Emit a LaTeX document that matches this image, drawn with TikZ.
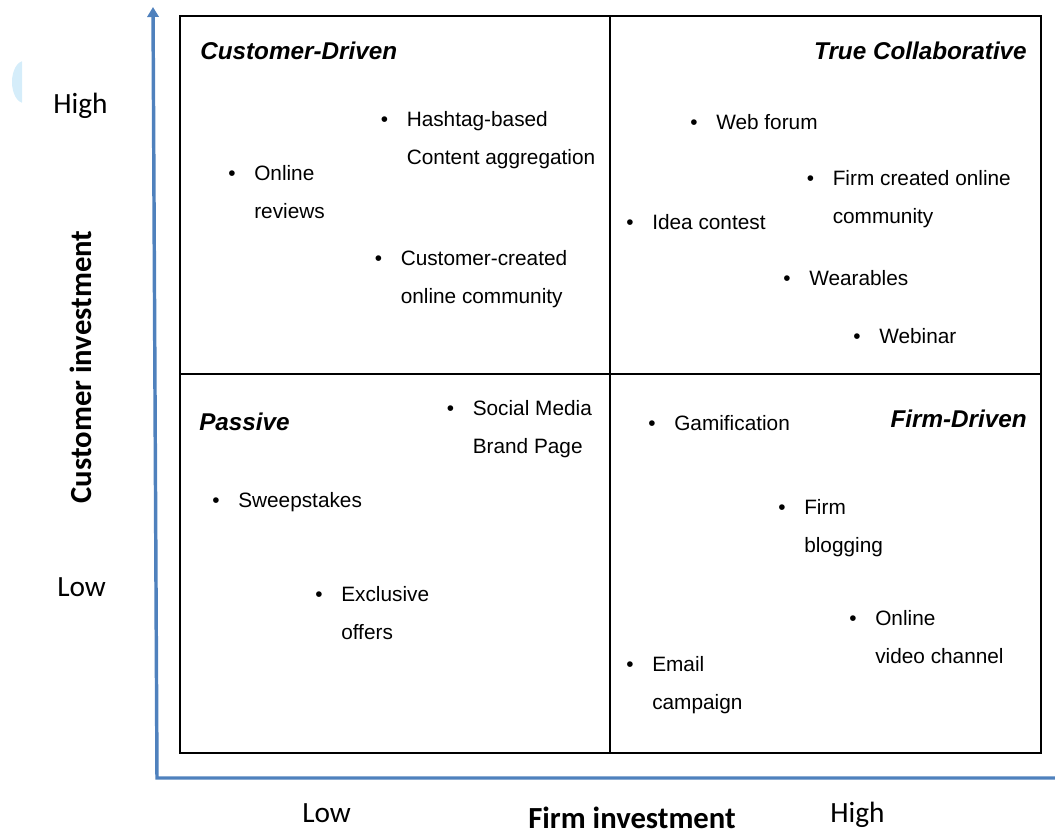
\documentclass[tikz,border=0pt]{standalone}
\usepackage{fontspec}
\setmainfont{Liberation Sans}
\newfontfamily\carlito{Carlito}
\usetikzlibrary{arrows.meta}
\definecolor{axisblue}{HTML}{4F81BD}
\definecolor{blob}{HTML}{D5EDFA}
\newcommand\bitem[1]{\llap{\textbullet\hspace{14pt}}\begin{tabular}[t]{@{}l@{}}#1\end{tabular}}
\begin{document}
\begin{tikzpicture}[x=0.75pt,y=-0.75pt,
 itm/.style={anchor=base west,inner sep=0pt,font=\fontsize{15.6}{28.5}\selectfont},
 hdr/.style={inner sep=0pt,font=\fontsize{18.2}{22}\selectfont\bfseries\itshape},
 lvl/.style={anchor=base west,inner sep=0pt,font=\carlito\fontsize{22}{26}\selectfont},
 axlab/.style={anchor=base,inner sep=0pt,font=\carlito\bfseries\fontsize{23}{27}\selectfont},
 axisline/.style={draw=axisblue,line width=2.6pt,line join=miter},
 gridline/.style={draw=black,line width=1.2pt}]
\useasboundingbox (0,0) rectangle (1055,835);

% light blue fragment
\begin{scope}
\clip (0,0) rectangle (22,835);
\fill[blob] (24,82) ellipse [x radius=12, y radius=21];
\end{scope}

% quadrant grid
\coordinate (tl) at (180,16);
\coordinate (br) at (1041,753);
\coordinate (mt) at (610,16);
\coordinate (mb) at (610,753);
\coordinate (ml) at (180,374);
\coordinate (mr) at (1041,374);
\draw[gridline] (tl) rectangle (br);
\draw[gridline] (mt) -- (mb);
\draw[gridline] (ml) -- (mr);

% axes
\coordinate (origin) at (157,778);
\coordinate (ytop) at (153,7);
\coordinate (xend) at (1056,778);
\draw[axisline,-{Triangle[width=8.5pt,length=7.5pt]}] (xend) -- (origin) -- (ytop);

% axis labels
\node[lvl] (yhigh) at (53,113) {High};
\node[lvl] (ylow) at (57,596) {Low};
\node[lvl] (xlow) at (302,822) {Low};
\node[lvl] (xhigh) at (830,822) {High};
\node[axlab] (xlab) at (632,828) {Firm investment};
\node[axlab,rotate=90] (ylab) at (91,367) {Customer investment};

% headers
\node[hdr,anchor=base west] (hcd) at (200,59) {Customer-Driven};
\node[hdr,anchor=base east] (htc) at (1027,59) {True Collaborative};
\node[hdr,anchor=base west] (hpa) at (199,430) {Passive};
\node[hdr,anchor=base east] (hfd) at (1027,427) {Firm-Driven};

% Customer-Driven items
\node[itm] (i1) at (406.5,126) {\bitem{Hashtag-based\\Content aggregation}};
\node[itm] (i2) at (254,180) {\bitem{Online\\reviews}};
\node[itm] (i3) at (400.5,265) {\bitem{Customer-created\\online community}};

% True Collaborative items
\node[itm] (i4) at (716,129) {\bitem{Web forum}};
\node[itm] (i5) at (832.5,185) {\bitem{Firm created online\\community}};
\node[itm] (i6) at (652,229) {\bitem{Idea contest}};
\node[itm] (i7) at (809,285) {\bitem{Wearables}};
\node[itm] (i8) at (879,343) {\bitem{Webinar}};

% Passive items
\node[itm] (i9) at (472.5,415) {\bitem{Social Media\\Brand Page}};
\node[itm] (i10) at (238,507.5) {\bitem{Sweepstakes}};
\node[itm] (i11) at (341,601) {\bitem{Exclusive\\offers}};

% Firm-Driven items
\node[itm] (i12) at (674,430) {\bitem{Gamification}};
\node[itm] (i13) at (804,514) {\bitem{Firm\\blogging}};
\node[itm] (i14) at (875,625) {\bitem{Online\\video channel}};
\node[itm] (i15) at (652,671) {\bitem{Email\\campaign}};
\end{tikzpicture}
\end{document}
